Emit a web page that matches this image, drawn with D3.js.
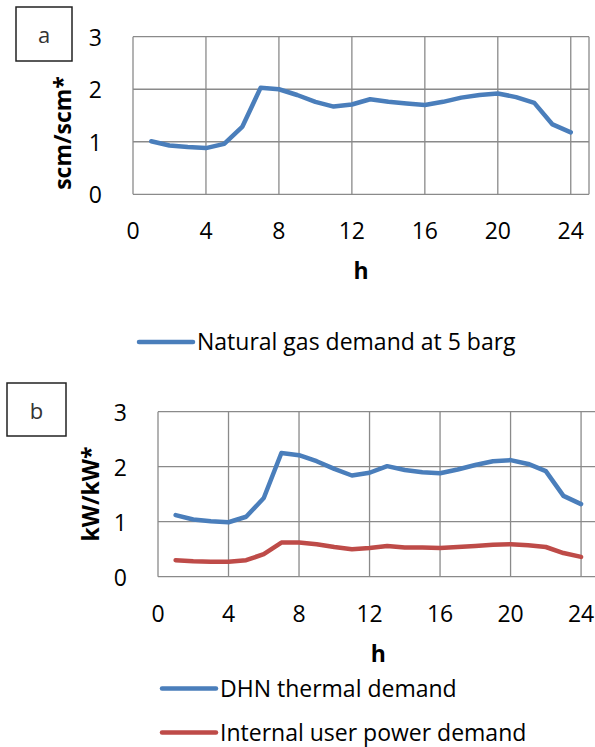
<!DOCTYPE html>
<html>
<head>
<meta charset="utf-8">
<script src="https://cdn.jsdelivr.net/npm/d3@7"></script>
<style>
  body { margin: 0; background: #fff; }
  text { font-family: "Open Sans", "Noto Sans", sans-serif; fill: #000; }
</style>
</head>
<body>
<svg id="chart" width="595" height="747"></svg>
<script>
// hours of the day
const hours = d3.range(1, 25);

// panel a: natural gas demand (scm/scm*)
const gas_demand = [1.01, 0.93, 0.90, 0.88, 0.96, 1.29, 2.03, 2.00, 1.89, 1.76, 1.67, 1.71,
                    1.81, 1.76, 1.73, 1.70, 1.76, 1.84, 1.89, 1.92, 1.85, 1.74, 1.33, 1.18];

// panel b: DHN thermal and internal user power demand (kW/kW*)
const dhn_thermal = [1.12, 1.04, 1.01, 0.99, 1.09, 1.43, 2.25, 2.21, 2.10, 1.96, 1.84, 1.89,
                     2.01, 1.94, 1.90, 1.88, 1.95, 2.03, 2.10, 2.12, 2.05, 1.92, 1.47, 1.32];
const user_power = [0.30, 0.28, 0.27, 0.27, 0.30, 0.41, 0.62, 0.62, 0.59, 0.54, 0.50, 0.52,
                    0.56, 0.53, 0.53, 0.52, 0.54, 0.56, 0.58, 0.59, 0.57, 0.54, 0.43, 0.36];

const x_ticks = [0, 4, 8, 12, 16, 20, 24];
const y_ticks = [0, 1, 2, 3];

const blue = "#4a7ebb";
const red = "#be4b48";
const grid_color = "#8a8a8a";
const font_size = 23;

const svg = d3.select("#chart");

function draw_panel(p) {
  let g = svg.append("g");

  let x = d3.scaleLinear().domain([0, 25]).range([p.left, p.right]);
  let y = d3.scaleLinear().domain([0, 3]).range([p.bottom, p.top]);

  // grid
  g.selectAll(".hgrid").data(y_ticks).enter()
    .append("line")
    .attr("x1", p.left).attr("x2", p.right)
    .attr("y1", (d) => y(d)).attr("y2", (d) => y(d))
    .attr("stroke", grid_color).attr("stroke-width", 1.3);
  g.selectAll(".vgrid").data(x_ticks.concat([25])).enter()
    .append("line")
    .attr("x1", (d) => x(d)).attr("x2", (d) => x(d))
    .attr("y1", p.top).attr("y2", p.bottom)
    .attr("stroke", grid_color).attr("stroke-width", 1.3);

  // tick labels
  g.selectAll(".xlab").data(x_ticks).enter()
    .append("text")
    .attr("x", (d) => x(d)).attr("y", p.bottom + 36)
    .attr("text-anchor", "middle").attr("dominant-baseline", "central")
    .attr("font-size", font_size)
    .text((d) => d);
  g.selectAll(".ylab").data(y_ticks).enter()
    .append("text")
    .attr("x", p.left - 31).attr("y", (d) => y(d))
    .attr("text-anchor", "end").attr("dominant-baseline", "central")
    .attr("font-size", font_size)
    .text((d) => d);

  // axis titles
  g.append("text")
    .attr("x", (p.left + p.right) / 2).attr("y", p.bottom + 76)
    .attr("text-anchor", "middle").attr("dominant-baseline", "central")
    .attr("font-size", font_size).attr("font-weight", "bold")
    .text("h");
  g.append("text")
    .attr("transform", "translate(" + p.ylab_x + "," + p.ylab_y + ") rotate(-90)")
    .attr("text-anchor", "middle").attr("dominant-baseline", "central")
    .attr("font-size", font_size).attr("font-weight", "bold")
    .text(p.ylabel);

  // series
  let line = d3.line().x((d, i) => x(hours[i])).y((d) => y(d));
  p.series.forEach((s) => {
    g.append("path")
      .attr("d", line(s.values))
      .attr("fill", "none")
      .attr("stroke", s.color)
      .attr("stroke-width", 4.5)
      .attr("stroke-linejoin", "round")
      .attr("stroke-linecap", "round");
  });

  // panel tag box
  g.append("rect")
    .attr("x", p.tag[0]).attr("y", p.tag[1])
    .attr("width", p.tag[2]).attr("height", p.tag[3])
    .attr("fill", "#fff").attr("stroke", "#222").attr("stroke-width", 1.5);
  g.append("text")
    .attr("x", p.tag[0] + p.tag[2] / 2).attr("y", p.tag[1] + p.tag[3] / 2)
    .attr("text-anchor", "middle").attr("dominant-baseline", "central")
    .attr("font-size", 22).style("fill", "#333")
    .text(p.tag_text);

  // legend
  p.series.forEach((s, i) => {
    let ly = p.legend_y + i * 44;
    g.append("line")
      .attr("x1", p.legend_x).attr("x2", p.legend_x + 54)
      .attr("y1", ly).attr("y2", ly)
      .attr("stroke", s.color).attr("stroke-width", 4.5)
      .attr("stroke-linecap", "round");
    g.append("text")
      .attr("x", p.legend_x + 58).attr("y", ly + 8)
      .attr("font-size", font_size)
      .text(s.name);
  });
}

draw_panel({
  left: 133, right: 589, top: 36.7, bottom: 194.3,
  ylabel: "scm/scm*", ylab_x: 62, ylab_y: 133,
  tag: [16, 7, 56, 54], tag_text: "a",
  legend_x: 139, legend_y: 342,
  series: [{ name: "Natural gas demand at 5 barg", values: gas_demand, color: blue }]
});

draw_panel({
  left: 158, right: 598.7, top: 411.7, bottom: 576.7,
  ylabel: "kW/kW*", ylab_x: 90, ylab_y: 494,
  tag: [7, 383, 59, 53], tag_text: "b",
  legend_x: 162, legend_y: 688.5,
  series: [
    { name: "DHN thermal demand", values: dhn_thermal, color: blue },
    { name: "Internal user power demand", values: user_power, color: red }
  ]
});
</script>
</body>
</html>
